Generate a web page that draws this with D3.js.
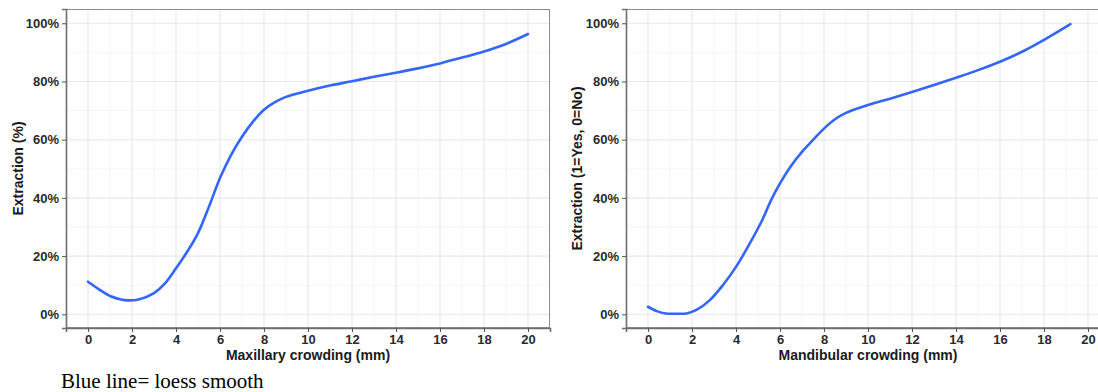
<!DOCTYPE html>
<html lang="en">

<head>
    <meta charset="UTF-8">
    <title>Extraction vs crowding</title>
    <style>
        body {
            margin: 0;
            overflow: hidden;
            background: #ffffff;
        }
    </style>
</head>

<body>
    <div id="container"></div>

    <script type="text/javascript" src="https://d3js.org/d3.v7.min.js"></script>
    <script type="text/javascript">
        // Loess curves (crowding in mm, extraction share 0..1).
        var maxCrowding = [0, 0.5, 1, 1.5, 1.8, 2.3, 3, 3.5, 4, 4.5, 5, 5.5, 6, 6.5, 7, 7.5, 8, 8.5, 9, 10, 11, 12, 13, 14, 15, 16, 17, 18, 19, 20];
        var maxExtraction = [0.112, 0.086, 0.063, 0.051, 0.048, 0.051, 0.073, 0.106, 0.158, 0.214, 0.279, 0.37, 0.468, 0.547, 0.61, 0.662, 0.703, 0.729, 0.747, 0.768, 0.786, 0.801, 0.816, 0.83, 0.845, 0.862, 0.882, 0.903, 0.929, 0.963];

        var manCrowding = [0, 0.4, 0.8, 1.3, 1.75, 2.2, 2.8, 3.4, 4, 4.6, 5.2, 5.6, 6, 6.5, 7, 7.5, 8, 8.5, 9, 10, 11, 12, 13, 14, 15, 16, 17, 18, 19.2];
        var manExtraction = [0.026, 0.011, 0.003, 0.002, 0.003, 0.015, 0.048, 0.1, 0.163, 0.24, 0.325, 0.393, 0.45, 0.51, 0.558, 0.599, 0.638, 0.67, 0.692, 0.719, 0.741, 0.764, 0.788, 0.813, 0.839, 0.868, 0.902, 0.943, 0.997];

        var xTicks = [0, 2, 4, 6, 8, 10, 12, 14, 16, 18, 20];
        var yTicks = [0, 0.2, 0.4, 0.6, 0.8, 1.0];

        var panels = [
            { xs: maxCrowding, ys: maxExtraction, left: 66, xTitle: "Maxillary crowding (mm)", yTitle: "Extraction (%)", yTitleX: 23 },
            { xs: manCrowding, ys: manExtraction, left: 626, xTitle: "Mandibular crowding (mm)", yTitle: "Extraction (1=Yes, 0=No)", yTitleX: 582 }
        ];

        var panelWidth = 484,
            panelTop = 9,
            panelBottom = 328;

        var svg = d3.select("#container")
            .append("svg")
            .attr("width", 1098)
            .attr("height", 392);

        var yScale = d3.scaleLinear()
            .domain([-0.047, 1.049])
            .range([panelBottom, panelTop]);

        panels.forEach(function (p) {
            var xScale = d3.scaleLinear()
                .domain([-1, 21])
                .range([p.left, p.left + panelWidth]);

            var g = svg.append("g").attr("class", "panel");

            // Minor grid at odd mm and 10% steps.
            var minorX = d3.range(-1, 22, 2);
            var minorY = d3.range(0.1, 1.0, 0.2);
            g.selectAll("line.minor-x")
                .data(minorX)
                .enter()
                .append("line")
                .attr("x1", function (d) { return xScale(d); })
                .attr("x2", function (d) { return xScale(d); })
                .attr("y1", panelTop)
                .attr("y2", panelBottom)
                .attr("stroke", "#f1f1f1")
                .attr("stroke-width", 0.8);
            g.selectAll("line.minor-y")
                .data(minorY)
                .enter()
                .append("line")
                .attr("x1", p.left)
                .attr("x2", p.left + panelWidth)
                .attr("y1", function (d) { return yScale(d); })
                .attr("y2", function (d) { return yScale(d); })
                .attr("stroke", "#f1f1f1")
                .attr("stroke-width", 0.8);

            // Major grid.
            g.selectAll("line.major-x")
                .data(xTicks)
                .enter()
                .append("line")
                .attr("x1", function (d) { return xScale(d); })
                .attr("x2", function (d) { return xScale(d); })
                .attr("y1", panelTop)
                .attr("y2", panelBottom)
                .attr("stroke", "#e8e8e8")
                .attr("stroke-width", 1.1);
            g.selectAll("line.major-y")
                .data(yTicks)
                .enter()
                .append("line")
                .attr("x1", p.left)
                .attr("x2", p.left + panelWidth)
                .attr("y1", function (d) { return yScale(d); })
                .attr("y2", function (d) { return yScale(d); })
                .attr("stroke", "#e8e8e8")
                .attr("stroke-width", 1.1);

            // Panel border.
            g.append("rect")
                .attr("x", p.left + 0.5)
                .attr("y", panelTop + 0.5)
                .attr("width", panelWidth - 1)
                .attr("height", panelBottom - panelTop - 1)
                .attr("fill", "none")
                .attr("stroke", "#8f8f8f")
                .attr("stroke-width", 1);

            // The smooth line.
            var line = d3.line()
                .x(function (d) { return xScale(d[0]); })
                .y(function (d) { return yScale(d[1]); })
                .curve(d3.curveCatmullRom.alpha(0.5));

            g.append("path")
                .datum(d3.zip(p.xs, p.ys))
                .attr("d", line)
                .attr("fill", "none")
                .attr("stroke", "#3366ff")
                .attr("stroke-width", 2.6)
                .attr("stroke-linecap", "round");

            // Axes.
            var xAxis = g.append("g")
                .attr("transform", "translate(0," + panelBottom + ")")
                .call(d3.axisBottom(xScale).tickValues(xTicks).tickSize(4).tickPadding(3));
            var yAxis = g.append("g")
                .attr("transform", "translate(" + p.left + ",0)")
                .call(d3.axisLeft(yScale).tickValues(yTicks).tickSize(4).tickPadding(3).tickFormat(d3.format(".0%")));

            [xAxis, yAxis].forEach(function (a) {
                a.select(".domain").attr("stroke", "#6f6f6f").attr("stroke-width", 1.6);
                a.selectAll(".tick line").attr("stroke", "#555555").attr("stroke-width", 1);
                a.selectAll(".tick text")
                    .attr("fill", "#2b2b2b")
                    .style("font-family", "'Liberation Sans', Arial, sans-serif")
                    .style("font-size", "13px")
                    .style("font-weight", "bold");
            });

            // Axis titles.
            g.append("text")
                .attr("x", xScale(10))
                .attr("y", 360)
                .attr("text-anchor", "middle")
                .attr("fill", "#1a1a1a")
                .style("font-family", "'Liberation Sans', Arial, sans-serif")
                .style("font-size", "14px")
                .style("font-weight", "bold")
                .text(p.xTitle);

            g.append("text")
                .attr("transform", "translate(" + p.yTitleX + "," + ((panelTop + panelBottom) / 2) + ") rotate(-90)")
                .attr("text-anchor", "middle")
                .attr("fill", "#1a1a1a")
                .style("font-family", "'Liberation Sans', Arial, sans-serif")
                .style("font-size", "14px")
                .style("font-weight", "bold")
                .text(p.yTitle);
        });

        // Caption under the figure.
        svg.append("text")
            .attr("x", 61)
            .attr("y", 388)
            .attr("fill", "#000000")
            .style("font-family", "'Liberation Serif', 'Times New Roman', serif")
            .style("font-size", "21px")
            .text("Blue line= loess smooth");
    </script>
</body>

</html>
